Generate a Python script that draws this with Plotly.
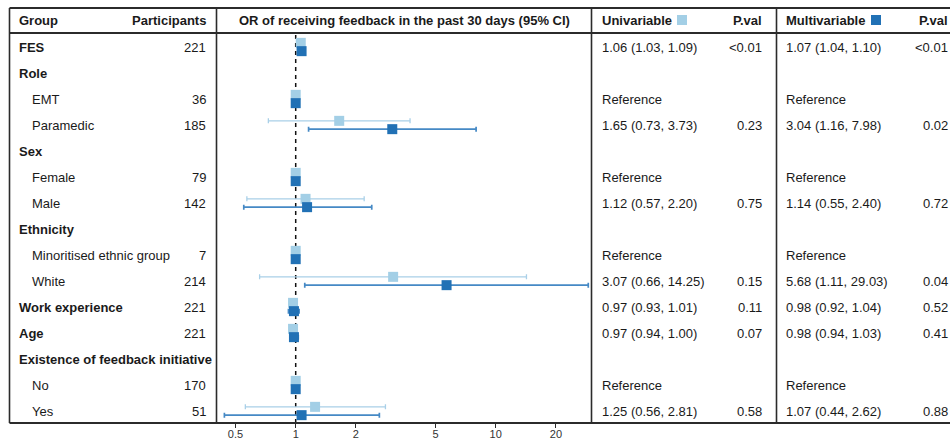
import plotly.graph_objects as go

# ---------------- data ----------------
groups = ["FES", "Role", "EMT", "Paramedic", "Sex", "Female", "Male", "Ethnicity",
          "Minoritised ethnic group", "White", "Work experience", "Age",
          "Existence of feedback initiative", "No", "Yes"]
is_header = [True, True, False, False, True, False, False, True,
             False, False, True, True, True, False, False]
participants = ["221", "", "36", "185", "", "79", "142", "", "7", "214", "221", "221", "", "170", "51"]

# None = no estimate; "ref" = reference category
uni_or = [1.06, None, "ref", 1.65, None, "ref", 1.12, None, "ref", 3.07, 0.97, 0.97, None, "ref", 1.25]
uni_lo = [1.03, None, None, 0.73, None, None, 0.57, None, None, 0.66, 0.93, 0.94, None, None, 0.56]
uni_hi = [1.09, None, None, 3.73, None, None, 2.20, None, None, 14.25, 1.01, 1.00, None, None, 2.81]
uni_p = ["<0.01", "", "", "0.23", "", "", "0.75", "", "", "0.15", "0.11", "0.07", "", "", "0.58"]

multi_or = [1.07, None, "ref", 3.04, None, "ref", 1.14, None, "ref", 5.68, 0.98, 0.98, None, "ref", 1.07]
multi_lo = [1.04, None, None, 1.16, None, None, 0.55, None, None, 1.11, 0.92, 0.94, None, None, 0.44]
multi_hi = [1.10, None, None, 7.98, None, None, 2.40, None, None, 29.03, 1.04, 1.03, None, None, 2.62]
multi_p = ["<0.01", "", "", "0.02", "", "", "0.72", "", "", "0.04", "0.52", "0.41", "", "", "0.88"]

tick_vals = [0.5, 1, 2, 5, 10, 20]
tick_text = ["0.5", "1", "2", "5", "10", "20"]

# ---------------- layout helpers ----------------
W, H = 950, 441
FONT = "Liberation Sans, Arial, sans-serif"
TXT = "#1a1a1a"
LIGHT = "#a3cfe6"
LIGHT_LINE = "#a9d0e8"
DARK = "#2171b5"
DARK_LINE = "#4589c5"
ROW0, ROWH = 47, 26
PLOT_BOTTOM = 423


def px(x):
    return x / W


def py(y):
    return 1 - y / H


def series(ors, los, his, offset):
    xs, ys, ep, em = [], [], [], []
    for i, (o, lo, hi) in enumerate(zip(ors, los, his)):
        if o is None:
            continue
        if o == "ref":
            xs.append(1.0); ep.append(0); em.append(0)
        else:
            xs.append(o); ep.append(hi - o); em.append(o - lo)
        ys.append(i + offset)
    return xs, ys, ep, em


fig = go.Figure()

ux, uy, uep, uem = series(uni_or, uni_lo, uni_hi, -0.16)
mx, my, mep, mem = series(multi_or, multi_lo, multi_hi, 0.16)

fig.add_trace(go.Scatter(
    x=ux, y=uy, mode="markers", name="Univariable",
    marker=dict(symbol="square", size=10, color=LIGHT, line=dict(width=0)),
    error_x=dict(type="data", array=uep, arrayminus=uem, color=LIGHT_LINE,
                 thickness=1.3, width=2.5, visible=True),
    showlegend=False, hoverinfo="skip"))
fig.add_trace(go.Scatter(
    x=mx, y=my, mode="markers", name="Multivariable",
    marker=dict(symbol="square", size=10, color=DARK, line=dict(width=0)),
    error_x=dict(type="data", array=mep, arrayminus=mem, color=DARK_LINE,
                 thickness=1.7, width=2.5, visible=True),
    showlegend=False, hoverinfo="skip"))

annotations = []


def add_text(x, row, text, anchor="left", bold=False, size=13):
    if bold:
        text = "<b>" + text + "</b>"
    annotations.append(dict(x=px(x), xref="paper", y=row, yref="y", text=text,
                            showarrow=False, xanchor=anchor, yanchor="middle",
                            font=dict(family=FONT, size=size, color=TXT)))


hdr_row = (20 - ROW0) / ROWH
add_text(17, hdr_row, "Group", bold=True)
add_text(208, hdr_row, "Participants", anchor="right", bold=True)
add_text(404, hdr_row, "OR of receiving feedback in the past 30 days (95% CI)", anchor="center", bold=True)
add_text(600, hdr_row, "Univariable", bold=True)
add_text(764, hdr_row, "P.val", anchor="right", bold=True)
add_text(784, hdr_row, "Multivariable", bold=True)
add_text(950, hdr_row, "P.val", anchor="right", bold=True)


def fmt(o, lo, hi):
    if o is None:
        return ""
    if o == "ref":
        return "Reference"
    return f"{o:.2f} ({lo:.2f}, {hi:.2f})"


for i, g in enumerate(groups):
    if is_header[i]:
        add_text(17, i, g, bold=True)
    else:
        add_text(30, i, g)
    if participants[i]:
        add_text(208, i, participants[i], anchor="right")
    t = fmt(uni_or[i], uni_lo[i], uni_hi[i])
    if t:
        add_text(600, i, t)
    if uni_p[i]:
        add_text(764, i, uni_p[i], anchor="right")
    t = fmt(multi_or[i], multi_lo[i], multi_hi[i])
    if t:
        add_text(784, i, t)
    if multi_p[i]:
        add_text(950, i, multi_p[i], anchor="right")

LC = "#2b2b2b"
shapes = []
for yy, w in [(8, 2), (33, 2), (PLOT_BOTTOM, 2)]:
    shapes.append(dict(type="line", xref="paper", yref="paper", x0=px(9.5), x1=1.0,
                       y0=py(yy), y1=py(yy), line=dict(color=LC, width=w)))
for xx in [9.5, 216.5, 591.5, 776.5]:
    shapes.append(dict(type="line", xref="paper", yref="paper", x0=px(xx), x1=px(xx),
                       y0=py(8), y1=py(PLOT_BOTTOM), line=dict(color=LC, width=1.6)))
# reference line at OR = 1
shapes.append(dict(type="line", xref="x", yref="paper", x0=1, x1=1,
                   y0=py(35), y1=py(PLOT_BOTTOM), layer="below",
                   line=dict(color="#111111", width=1.5, dash="4px,4px")))
# legend swatches in header
shapes.append(dict(type="rect", xref="paper", yref="paper", x0=px(677), x1=px(687),
                   y0=py(25), y1=py(15), fillcolor=LIGHT, line=dict(width=0)))
shapes.append(dict(type="rect", xref="paper", yref="paper", x0=px(871), x1=px(881),
                   y0=py(25), y1=py(15), fillcolor=DARK, line=dict(width=0)))

x_left, x_right = 216.5, 591.5
# log axis: OR = 1 at 295.7 px, 200 px per decade
lo_log = (x_left - 295.7) / 200
hi_log = (x_right - 295.7) / 200

fig.update_layout(
    width=W, height=H, template="none",
    margin=dict(l=0, r=0, t=0, b=0),
    paper_bgcolor="white", plot_bgcolor="rgba(0,0,0,0)",
    font=dict(family=FONT, color=TXT),
    xaxis=dict(type="log", domain=[px(x_left), px(x_right)], range=[lo_log, hi_log],
               tickvals=tick_vals, ticktext=tick_text, ticks="outside", ticklen=4,
               tickcolor=LC, tickwidth=1, showgrid=False, zeroline=False, showline=False,
               tickfont=dict(family=FONT, size=11, color="#333333"), automargin=False,
               ticklabelstandoff=-3, fixedrange=True),
    yaxis=dict(domain=[py(PLOT_BOTTOM), 1],
               range=[(PLOT_BOTTOM - ROW0) / ROWH, -ROW0 / ROWH],
               visible=False, showgrid=False, zeroline=False, automargin=False,
               fixedrange=True),
    annotations=annotations, shapes=shapes, showlegend=False,
)

fig.write_html(
    "out.html",
    config={"displayModeBar": False, "staticPlot": True},
    post_script="document.body.style.margin='0';document.body.style.overflow='hidden';",
)
